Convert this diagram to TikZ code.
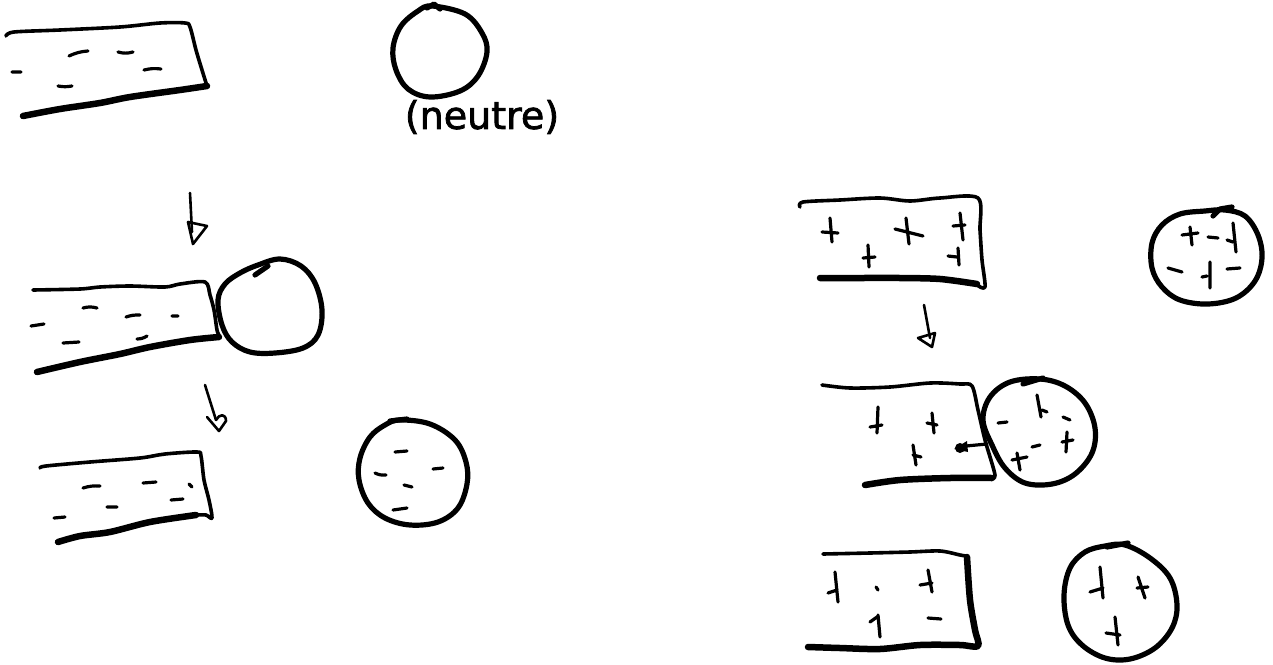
\documentclass[tikz,border=0pt]{standalone}
\usepackage{fontspec}
\newfontfamily\handfont[FakeBold=2]{DejaVu Sans}
\tikzset{
  rodline/.style={line width=3.6pt, line cap=round, line join=round},
  rodbase/.style={line width=6.5pt, line cap=round, line join=round},
  ball/.style={line width=5.2pt, line cap=round, line join=round},
  mk/.style={line width=3.2pt, line cap=round},
  arr/.style={line width=2.6pt, line cap=round, line join=round},
}
\begin{document}
\begin{tikzpicture}[x=1pt,y=-1pt]
\useasboundingbox[fill=white] (0,0) rectangle (1273,664);

% ---------- left column ----------
% rod 1 (negative)
\draw[rodline] plot[smooth, tension=0.5] coordinates {(6,36) (14,32) (60,30) (120,27) (160,23) (185,23) (190,27) (196,50) (202,70) (207,86)};
\draw[rodbase] plot[smooth, tension=0.5] coordinates {(207,86) (180,90) (130,97) (100,103) (60,109) (23,116)};
\draw[mk] (12,72)--(21,72) (69,56) to[bend left=10] (88,51) (118,52) to[bend right=15] (133,52)
          (144,70) to[bend left=10] (161,69) (58,86) to[bend right=10] (72,86);

% neutral ball + label
\draw[ball] plot[smooth cycle, tension=0.6] coordinates {(432,6) (465,14) (482,33) (487,52) (478,76) (460,91) (430,97) (408,89) (396,70) (393,48) (401,26) (418,11)};
\draw[ball] (427,8)--(434,4)--(440,9);
\node[font=\handfont\fontsize{38}{42}\selectfont, inner sep=0pt] (neutre) at (482,117) {(neutre)};

% arrow 1
\coordinate (a1s) at (190,193);
\coordinate (a1e) at (193,244);
\draw[arr] (a1s) -- (192,232);
\draw[arr] (188,222) -- (207,226) -- (a1e) -- cycle;

% rod 2 touching ball
\draw[rodline] plot[smooth, tension=0.5] coordinates {(33,290) (80,289) (100,287) (130,286) (165,287) (180,284) (205,282) (210,295) (214,310) (217,330) (219,335)};
\draw[rodbase] plot[smooth, tension=0.5] coordinates {(219,337) (190,340) (150,347) (120,354) (80,362) (37,372)};
\draw[mk] (31,326)--(44,324) (83,308) to[bend left=15] (97,308) (126,317) to[bend left=10] (140,315)
          (172,316)--(178,316) (63,343)--(79,342) (137,339) to[bend right=15] (147,336);
\draw[ball] plot[smooth cycle, tension=0.6] coordinates {(218,300) (225,284) (240,273) (258,265) (280,259) (301,266) (315,283) (322,310) (318,335) (303,348) (275,353) (250,352) (232,342) (222,325)};
\draw[ball] (255,275)--(268,266);

% arrow 2
\coordinate (a2s) at (205,385);
\coordinate (a2e) at (219,431);
\draw[arr] (a2s) -- (216,420);
\draw[arr] (207,417) -- (a2e) -- (226,421) .. controls (226,413) and (219,414) .. (216,420);

% rod 3 and charged ball
\draw[rodline] plot[smooth, tension=0.5] coordinates {(40,468) (46,466) (90,462) (140,458) (165,454) (197,452) (201,456) (204,480) (209,500) (212,518) (206,515) (196,515)};
\draw[rodbase] plot[smooth, tension=0.5] coordinates {(196,515) (150,522) (110,532) (80,536) (58,542)};
\draw[mk] (83,488) to[bend left=10] (100,486) (143,483)--(156,482) (189,484)--(192,487)
          (171,500)--(183,499) (107,507)--(117,507) (54,518)--(65,517);
\draw[ball] plot[smooth cycle, tension=0.6] coordinates {(400,420) (430,424) (455,440) (466,462) (467,484) (458,508) (438,522) (410,525) (385,518) (368,503) (359,480) (360,458) (370,437) (385,425)};
\draw[ball] (390,421)--(407,419);
\draw[mk] (395,452)--(407,451) (375,473) to[bend right=15] (386,475) (433,469)--(443,468)
          (404,485)--(412,487) (393,510)--(407,508);

% ---------- right column ----------
% rod (positive) and ball (neutral, mixed)
\draw[rodline] plot[smooth, tension=0.5] coordinates {(800,207) (803,202) (840,200) (880,198) (910,201) (940,198) (978,198) (980,230) (982,260) (985,287) (977,285)};
\draw[rodbase] plot[smooth, tension=0.5] coordinates {(977,284) (940,279) (900,278) (860,278) (820,278)};
\draw[mk] (830,218)--(832,242) (822,232)--(838,233)
          (868,245)--(869,267) (863,258)--(875,257)
          (895,229)--(923,236) (906,218)--(909,244)
          (960,213)--(963,240) (953,226)--(965,225)
          (958,248)--(959,265) (948,256)--(957,257);
\draw[ball] plot[smooth cycle, tension=0.6] coordinates {(1225,210) (1245,216) (1258,235) (1262,258) (1255,281) (1236,298) (1208,304) (1180,300) (1162,287) (1152,268) (1152,243) (1162,225) (1180,214) (1205,211)};
\draw[ball] (1213,216)--(1220,209)--(1232,207);
\draw[mk] (1182,235)--(1198,233) (1190,227)--(1192,245) (1208,237)--(1218,238)
          (1233,223)--(1236,252) (1227,240)--(1233,242)
          (1168,268)--(1182,272) (1210,262)--(1210,288) (1202,277)--(1207,276)
          (1227,269)--(1240,268);

% arrow 3
\coordinate (a3s) at (924,305);
\coordinate (a3e) at (932,347);
\draw[arr] (a3s) -- (930,338);
\draw[arr] (918,338) -- (935,333) -- (a3e) -- cycle;

% rod touching ball
\draw[rodline] plot[smooth, tension=0.5] coordinates {(822,385) (850,388) (890,387) (930,383) (960,384) (972,386) (978,410) (985,440) (995,475) (990,478)};
\draw[rodbase] plot[smooth, tension=0.5] coordinates {(992,478) (950,478) (900,480) (865,485)};
\draw[mk] (878,407)--(877,433) (870,427)--(882,425)
          (932,413)--(934,433) (927,423)--(937,425)
          (913,445)--(916,465) (913,455)--(921,457);
\draw[ball] plot[smooth cycle, tension=0.6] coordinates {(1040,379) (1065,386) (1085,403) (1095,428) (1092,453) (1075,474) (1052,484) (1025,483) (1005,468) (992,445) (983,420) (990,397) (1010,382)};
\draw[ball] (1023,384)--(1043,378);
\draw[mk] (998,423)--(1007,422) (1037,395)--(1041,417) (1042,410)--(1047,412)
          (1063,417)--(1070,420) (1067,432)--(1066,452) (1062,442)--(1073,440)
          (1032,447)--(1040,445) (1012,460)--(1027,457) (1017,453)--(1020,470);
% small transfer arrow
\coordinate (a4s) at (987,444);
\coordinate (a4e) at (954,449);
\draw[line width=3.2pt, line cap=round] (a4s) -- (966,446);
\fill (a4e) -- (967,441) -- (968,452) -- cycle;
\fill (960,448) circle (5);

% rod after separation and charged ball
\draw[rodline] plot[smooth, tension=0.5] coordinates {(823,554) (870,553) (910,552) (940,551) (960,555) (966,556)};
\draw[rodbase] plot[smooth, tension=0.5] coordinates {(967,557) (970,600) (975,630) (978,646) (960,645) (920,645) (880,649) (840,648) (808,647)};
\draw[mk] (835,572)--(838,602) (828,593)--(837,590) (876,587)--(878,590)
          (928,570)--(932,592) (920,585)--(932,583)
          (878,615)--(880,637) (870,622)--(877,617) (928,618)--(941,619);
\draw[ball] plot[smooth cycle, tension=0.6] coordinates {(1125,545) (1150,558) (1170,578) (1177,605) (1172,628) (1155,648) (1130,659) (1105,658) (1082,645) (1068,625) (1064,595) (1070,568) (1085,552) (1105,546)};
\draw[ball] (1107,547)--(1128,543);
\draw[mk] (1100,567)--(1103,598) (1090,592)--(1103,588)
          (1138,577)--(1145,598) (1137,588)--(1148,587)
          (1115,617)--(1118,645) (1106,633)--(1120,635);
\end{tikzpicture}
\end{document}
